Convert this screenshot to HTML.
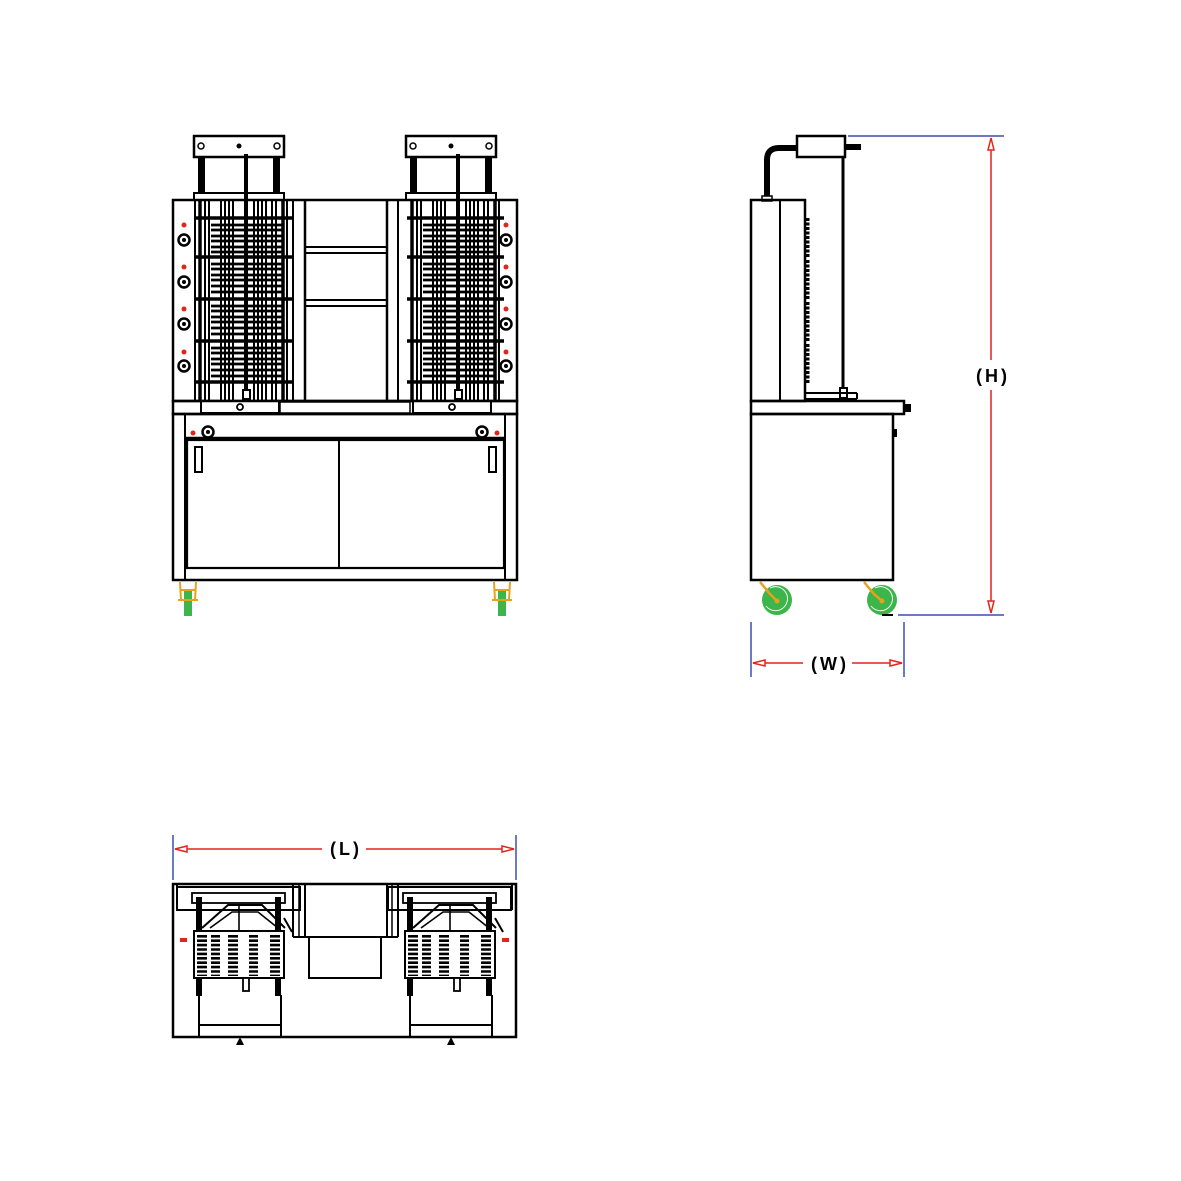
<!DOCTYPE html>
<html><head><meta charset="utf-8"><style>html,body{margin:0;padding:0;background:#fff}svg{display:block}</style></head>
<body>
<svg width="1181" height="1181" viewBox="0 0 1181 1181" xmlns="http://www.w3.org/2000/svg">
<defs>
<g id="grill" stroke="#000" fill="none">
  <rect x="194" y="136" width="90" height="21" stroke-width="2.5" fill="#fff"/>
  <circle cx="201" cy="146" r="3" stroke-width="1.5"/>
  <circle cx="277" cy="146" r="3" stroke-width="1.5"/>
  <circle cx="239" cy="146" r="2" fill="#000"/>
  <rect x="198" y="157" width="7" height="37" fill="#000" stroke="none"/>
  <rect x="273" y="157" width="7" height="37" fill="#000" stroke="none"/>
  <rect x="194" y="193" width="90" height="7" stroke-width="2"/>
  <g stroke-width="2">
    <line x1="200" y1="200" x2="200" y2="400" stroke-width="3.5"/>
    <line x1="205" y1="200" x2="205" y2="400"/>
    <line x1="209" y1="200" x2="209" y2="400"/>
    <line x1="221" y1="200" x2="221" y2="400"/>
    <line x1="225" y1="200" x2="225" y2="400"/>
    <line x1="229" y1="200" x2="229" y2="400"/>
    <line x1="233" y1="200" x2="233" y2="400"/>
    <line x1="254" y1="200" x2="254" y2="400"/>
    <line x1="258" y1="200" x2="258" y2="400"/>
    <line x1="262" y1="200" x2="262" y2="400"/>
    <line x1="266" y1="200" x2="266" y2="400"/>
    <line x1="272" y1="200" x2="272" y2="400"/>
    <line x1="276" y1="200" x2="276" y2="400"/>
    <line x1="283" y1="200" x2="283" y2="400" stroke-width="3.5"/>
    <line x1="287" y1="200" x2="287" y2="400"/>
  </g>
  <g stroke-width="3.5">
    <line x1="195" y1="218" x2="292" y2="218"/>
    <line x1="195" y1="257" x2="292" y2="257"/>
    <line x1="195" y1="299" x2="292" y2="299"/>
    <line x1="195" y1="341" x2="292" y2="341"/>
    <line x1="195" y1="382" x2="292" y2="382"/>
  </g>
  <g stroke-width="2.8">
    <line x1="211" y1="225" x2="283" y2="225"/><line x1="211" y1="230" x2="283" y2="230"/><line x1="211" y1="236" x2="283" y2="236"/><line x1="211" y1="241" x2="283" y2="241"/><line x1="211" y1="247" x2="283" y2="247"/><line x1="211" y1="252" x2="283" y2="252"/>
    <line x1="211" y1="264" x2="283" y2="264"/><line x1="211" y1="269" x2="283" y2="269"/><line x1="211" y1="275" x2="283" y2="275"/><line x1="211" y1="280" x2="283" y2="280"/><line x1="211" y1="286" x2="283" y2="286"/><line x1="211" y1="292" x2="283" y2="292"/>
    <line x1="211" y1="306" x2="283" y2="306"/><line x1="211" y1="311" x2="283" y2="311"/><line x1="211" y1="317" x2="283" y2="317"/><line x1="211" y1="322" x2="283" y2="322"/><line x1="211" y1="328" x2="283" y2="328"/><line x1="211" y1="334" x2="283" y2="334"/>
    <line x1="211" y1="348" x2="283" y2="348"/><line x1="211" y1="353" x2="283" y2="353"/><line x1="211" y1="359" x2="283" y2="359"/><line x1="211" y1="364" x2="283" y2="364"/><line x1="211" y1="370" x2="283" y2="370"/><line x1="211" y1="376" x2="283" y2="376"/>
  </g>
  <line x1="246" y1="154" x2="246" y2="392" stroke-width="4"/>
  <rect x="243" y="390" width="7" height="9" stroke-width="2" fill="#fff"/>
  <rect x="201" y="401" width="78" height="12" stroke-width="2" fill="#fff"/>
  <circle cx="240" cy="407" r="3" stroke-width="1.8" fill="#fff"/>
</g>
<g id="knob">
  <circle r="5.5" fill="#fff" stroke="#000" stroke-width="2.5"/><circle r="2" fill="#000"/>
</g>
<g id="topunit" stroke="#000" fill="none">
  <rect x="177" y="887" width="123" height="23" stroke-width="2"/>
  <rect x="192" y="893" width="93" height="10" stroke-width="1.8"/>
  <rect x="196" y="897" width="6" height="33" fill="#000" stroke="none"/>
  <rect x="275" y="897" width="6" height="33" fill="#000" stroke="none"/>
  <polyline points="202,928 228,905 262,905 285,928" stroke-width="2"/>
  <polyline points="210,928 232,912 258,912 278,928" stroke-width="1.6"/>
  <line x1="239" y1="905" x2="239" y2="930" stroke-width="1.6"/>
  <line x1="284" y1="918" x2="292" y2="932" stroke-width="2"/>
  <rect x="194" y="931" width="90" height="47" stroke-width="2" fill="#fff"/>
  <g stroke-width="2.6" stroke-dasharray="9 4.5 9 4.5 10 11 10 11 10 100">
  </g>
  <g stroke-dasharray="2.6 1.8">
    <line x1="202" y1="935" x2="202" y2="976" stroke-width="10"/>
    <line x1="215.5" y1="935" x2="215.5" y2="976" stroke-width="9"/>
    <line x1="233" y1="935" x2="233" y2="976" stroke-width="10"/>
    <line x1="253.5" y1="935" x2="253.5" y2="976" stroke-width="9"/>
    <line x1="275" y1="935" x2="275" y2="976" stroke-width="10"/>
  </g>
  <rect x="196" y="978" width="6" height="18" fill="#000" stroke="none"/>
  <rect x="275" y="978" width="6" height="18" fill="#000" stroke="none"/>
  <rect x="243" y="978" width="6" height="13" stroke-width="1.8" fill="#fff"/>
  <line x1="199" y1="995" x2="199" y2="1037" stroke-width="2"/>
  <line x1="281" y1="995" x2="281" y2="1037" stroke-width="2"/>
  <line x1="199" y1="1025" x2="281" y2="1025" stroke-width="2"/>
  <polygon points="236,1045 244,1045 240,1037" fill="#000" stroke="none"/>
</g>
</defs>

<!-- FRONT VIEW -->
<g stroke="#000" fill="none">
  <rect x="173" y="200" width="344" height="201" stroke-width="2.5"/>
  <line x1="195" y1="200" x2="195" y2="401" stroke-width="2"/>
  <line x1="495" y1="200" x2="495" y2="401" stroke-width="2"/>
  <line x1="293" y1="200" x2="293" y2="401" stroke-width="2"/>
  <line x1="305" y1="200" x2="305" y2="401" stroke-width="2.5"/>
  <line x1="387" y1="200" x2="387" y2="401" stroke-width="2.5"/>
  <line x1="398" y1="200" x2="398" y2="401" stroke-width="2"/>
  <line x1="305" y1="247" x2="387" y2="247" stroke-width="2"/>
  <line x1="305" y1="253" x2="387" y2="253" stroke-width="2"/>
  <line x1="305" y1="300" x2="387" y2="300" stroke-width="2"/>
  <line x1="305" y1="306" x2="387" y2="306" stroke-width="2"/>
</g>
<use href="#grill"/>
<use href="#grill" transform="translate(212,0)"/>
<g>
  <use href="#knob" x="184" y="240"/><use href="#knob" x="184" y="282"/><use href="#knob" x="184" y="324"/><use href="#knob" x="184" y="366"/>
  <use href="#knob" x="506" y="240"/><use href="#knob" x="506" y="282"/><use href="#knob" x="506" y="324"/><use href="#knob" x="506" y="366"/>
  <g fill="#e3241b">
    <circle cx="184" cy="225" r="2.5"/><circle cx="184" cy="267" r="2.5"/><circle cx="184" cy="309" r="2.5"/><circle cx="184" cy="352" r="2.5"/>
    <circle cx="506" cy="225" r="2.5"/><circle cx="506" cy="267" r="2.5"/><circle cx="506" cy="309" r="2.5"/><circle cx="506" cy="352" r="2.5"/>
  </g>
</g>
<g stroke="#000" fill="none">
  <rect x="173" y="401" width="344" height="13" stroke-width="2.5"/>
  <rect x="280" y="402" width="130" height="11" stroke-width="1.5"/>
  <rect x="173" y="414" width="344" height="166" stroke-width="2.5"/>
  <line x1="185" y1="414" x2="185" y2="580" stroke-width="2"/>
  <line x1="505" y1="414" x2="505" y2="580" stroke-width="2"/>
  <line x1="185" y1="438" x2="505" y2="438" stroke-width="2.5"/>
  <rect x="187" y="440" width="317" height="128" stroke-width="2.2"/>
  <line x1="339" y1="440" x2="339" y2="568" stroke-width="2"/>
  <rect x="195" y="447" width="7" height="25" stroke-width="2"/>
  <rect x="489" y="447" width="7" height="25" stroke-width="2"/>
</g>
<use href="#knob" x="208" y="432"/><use href="#knob" x="482" y="432"/>
<circle cx="193" cy="433" r="2.5" fill="#e3241b"/><circle cx="497" cy="433" r="2.5" fill="#e3241b"/>
<g>
  <rect x="184" y="590" width="8" height="26" fill="#3cb54a"/>
  <path d="M180 582 L181 600 M196 582 L195 600 M180 590 h16 M178 600 h20" stroke="#e8a21a" stroke-width="2" fill="none"/>
  <rect x="498" y="590" width="8" height="26" fill="#3cb54a"/>
  <path d="M494 582 L495 600 M510 582 L509 600 M494 590 h16 M492 600 h20" stroke="#e8a21a" stroke-width="2" fill="none"/>
</g>

<!-- SIDE VIEW -->
<g stroke="#000" fill="none">
  <path d="M767 200 V160 Q767 148 779 148 H797" stroke-width="6"/>
  <rect x="762" y="196" width="10" height="5" stroke-width="1.5" fill="#fff"/>
  <rect x="797" y="136" width="48" height="21" stroke-width="2.5" fill="#fff"/>
  <line x1="845" y1="147" x2="861" y2="147" stroke-width="6"/>
  <line x1="843" y1="157" x2="843" y2="392" stroke-width="3"/>
  <rect x="840" y="388" width="7" height="10" stroke-width="2" fill="#fff"/>
  <rect x="751" y="200" width="54" height="201" stroke-width="2.5"/>
  <line x1="780" y1="200" x2="780" y2="401" stroke-width="2"/>
  <line x1="805" y1="393" x2="857" y2="393" stroke-width="2"/>
  <line x1="805" y1="399" x2="857" y2="399" stroke-width="2"/>
  <line x1="857" y1="393" x2="857" y2="399" stroke-width="2"/>
  <rect x="751" y="401" width="153" height="13" stroke-width="2.5"/>
  <rect x="751" y="414" width="142" height="166" stroke-width="2.5"/>
</g>
<g stroke="#000" stroke-width="5" stroke-dasharray="3 1.5">
  <line x1="807" y1="218" x2="807" y2="258"/><line x1="807" y1="260" x2="807" y2="300"/>
  <line x1="807" y1="302" x2="807" y2="342"/><line x1="807" y1="344" x2="807" y2="384"/>
</g>
<g fill="#000">
  <rect x="904" y="404" width="7" height="8"/>
  <rect x="892" y="429" width="5" height="8"/>
</g>
<g>
  <circle cx="777" cy="600" r="15" fill="#3cb54a"/>
  <path d="M770 588 A12 12 0 1 1 766 606" fill="none" stroke="#fff" stroke-width="0.9"/>
  <path d="M760 582 L770 594 L777 601" stroke="#e8a21a" stroke-width="2.5" fill="none"/>
  <circle cx="777" cy="601" r="2.5" fill="#e8a21a"/>
  <circle cx="882" cy="600" r="15" fill="#3cb54a"/>
  <path d="M875 588 A12 12 0 1 1 871 606" fill="none" stroke="#fff" stroke-width="0.9"/>
  <path d="M864 582 L874 594 L882 601" stroke="#e8a21a" stroke-width="2.5" fill="none"/>
  <circle cx="882" cy="601" r="2.5" fill="#e8a21a"/>
  <line x1="882" y1="615" x2="893" y2="615" stroke="#000" stroke-width="2"/>
</g>

<g stroke="#3b4fb0" stroke-width="1.5">
  <line x1="848" y1="136" x2="1004" y2="136"/>
  <line x1="898" y1="615" x2="1004" y2="615"/>
  <line x1="751" y1="622" x2="751" y2="677"/>
  <line x1="904" y1="622" x2="904" y2="677"/>
  <line x1="173" y1="835" x2="173" y2="880"/>
  <line x1="516" y1="835" x2="516" y2="880"/>
</g>
<g stroke="#e3241b" stroke-width="1.5" fill="#fff">
  <line x1="991" y1="138" x2="991" y2="360"/>
  <line x1="991" y1="390" x2="991" y2="613"/>
  <polygon points="991,138 988,150 994,150"/>
  <polygon points="991,613 988,601 994,601"/>
  <line x1="753" y1="663" x2="803" y2="663"/>
  <line x1="852" y1="663" x2="902" y2="663"/>
  <polygon points="753,663 765,660 765,666"/>
  <polygon points="902,663 890,660 890,666"/>
  <line x1="175" y1="849" x2="322" y2="849"/>
  <line x1="366" y1="849" x2="514" y2="849"/>
  <polygon points="175,849 187,846 187,852"/>
  <polygon points="514,849 502,846 502,852"/>
</g>
<g font-family="'Liberation Sans', sans-serif" font-weight="bold" font-size="18" fill="#000" text-anchor="middle" letter-spacing="3">
  <text x="993" y="382">(H)</text>
  <text x="830" y="670">(W)</text>
  <text x="346" y="855">(L)</text>
</g>

<!-- TOP VIEW -->
<g stroke="#000" fill="none">
  <rect x="173" y="884" width="343" height="153" stroke-width="2.5"/>
  <line x1="177" y1="884" x2="177" y2="910" stroke-width="2"/>
  <line x1="512" y1="884" x2="512" y2="910" stroke-width="2"/>
  <line x1="293" y1="884" x2="293" y2="937" stroke-width="2"/>
  <line x1="299" y1="884" x2="299" y2="937" stroke-width="1.5"/>
  <line x1="305" y1="884" x2="305" y2="937" stroke-width="2"/>
  <line x1="387" y1="884" x2="387" y2="937" stroke-width="2"/>
  <line x1="392" y1="884" x2="392" y2="937" stroke-width="1.5"/>
  <line x1="398" y1="884" x2="398" y2="937" stroke-width="2"/>
  <line x1="293" y1="937" x2="398" y2="937" stroke-width="2"/>
  <rect x="309" y="937" width="72" height="41" stroke-width="2"/>
</g>
<use href="#topunit"/>
<use href="#topunit" transform="translate(211,0)"/>
<rect x="180" y="938" width="7" height="4" fill="#e3241b"/>
<rect x="502" y="938" width="7" height="4" fill="#e3241b"/>
</svg>
</body></html>
